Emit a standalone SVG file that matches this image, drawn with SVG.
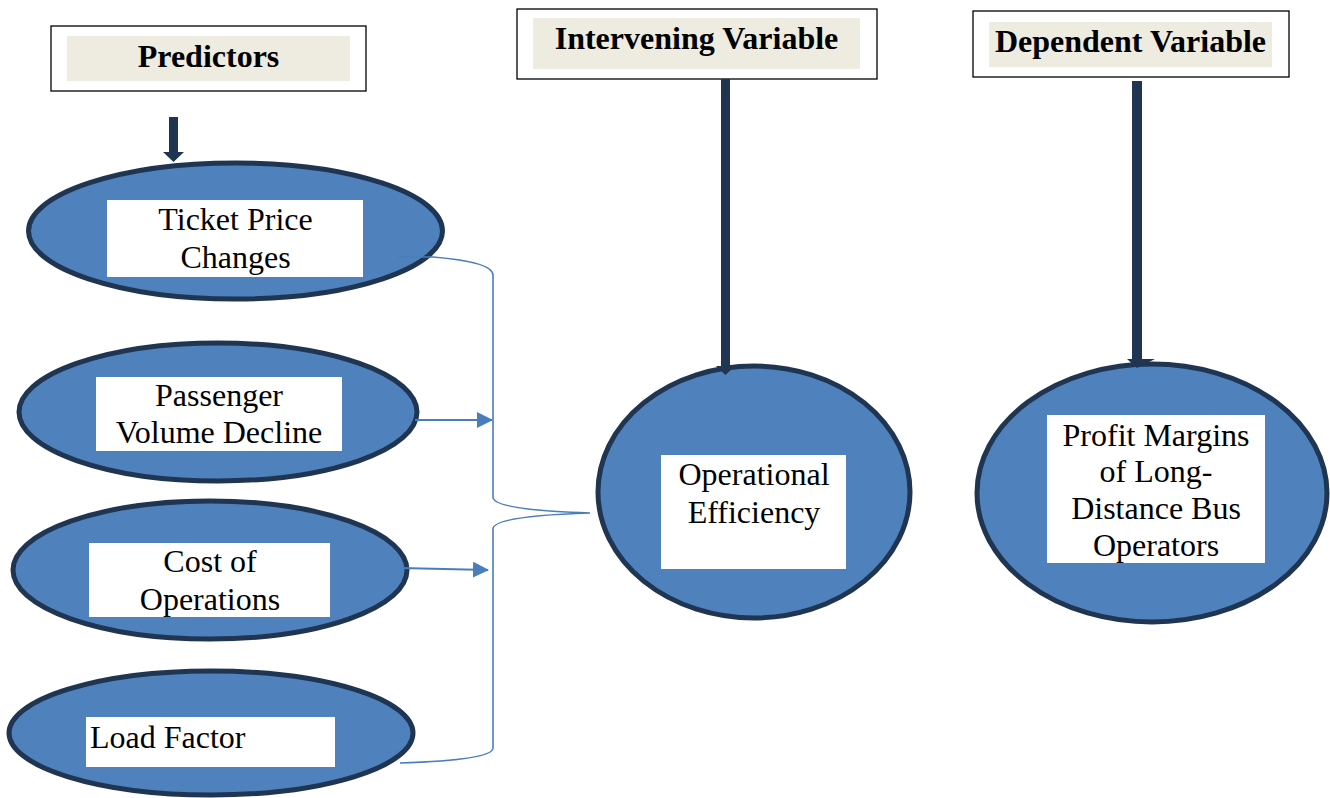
<svg xmlns="http://www.w3.org/2000/svg" width="1330" height="798" viewBox="0 0 1330 798">
<style>
.hdr{fill:#fff;stroke:#000;stroke-width:1.3}
.hin{fill:#EEECE1}
.ht{font-family:"Liberation Serif",serif;font-weight:bold;font-size:32px;fill:#000;text-anchor:middle}
.ell{fill:#4F81BD;stroke:#1F3552;stroke-width:5}
.tb{fill:#fff}
.bt{font-family:"Liberation Serif",serif;font-size:32px;fill:#000;text-anchor:middle}
.brace{fill:none;stroke:#4A7EBB;stroke-width:1.6}
.thick{fill:#1F3552}
</style>
<defs>
<marker id="ah" markerWidth="16" markerHeight="16" refX="15" refY="8" orient="auto" markerUnits="userSpaceOnUse"><path d="M0,0 L16,8 L0,16 Z" fill="#4A7EBB"/></marker>
</defs>
<g id="hdr-predictors">
<rect class="hdr" x="51" y="26" width="315" height="65"/>
<rect class="hin" x="67" y="36" width="283" height="45"/>
<text class="ht" x="208.5" y="67">Predictors</text>
</g>
<g id="hdr-intervening">
<rect class="hdr" x="517" y="9" width="360" height="70"/>
<rect class="hin" x="533" y="18" width="327" height="51"/>
<text class="ht" x="696.5" y="49">Intervening Variable</text>
</g>
<g id="hdr-dependent">
<rect class="hdr" x="973" y="11" width="316" height="66"/>
<rect class="hin" x="989" y="22" width="283" height="45"/>
<text class="ht" x="1130.5" y="52">Dependent Variable</text>
</g>
<g id="n-ticket">
<ellipse class="ell" cx="235.5" cy="231" rx="207" ry="68"/>
<rect class="tb" x="107" y="200" width="256" height="77"/>
<text class="bt" x="235.5" y="230">Ticket Price</text>
<text class="bt" x="235.5" y="268">Changes</text>
</g>
<g id="n-passenger">
<ellipse class="ell" cx="218" cy="412" rx="199" ry="69"/>
<rect class="tb" x="96" y="377" width="246" height="74"/>
<text class="bt" x="219" y="406">Passenger</text>
<text class="bt" x="219" y="443">Volume Decline</text>
</g>
<g id="n-cost">
<ellipse class="ell" cx="210" cy="570" rx="197" ry="69"/>
<rect class="tb" x="89" y="543" width="241" height="74"/>
<text class="bt" x="210" y="572">Cost of</text>
<text class="bt" x="210" y="610">Operations</text>
</g>
<g id="n-load">
<ellipse class="ell" cx="211" cy="733" rx="202" ry="62"/>
<rect class="tb" x="86" y="717" width="249" height="50"/>
<text class="bt" x="90" y="748" style="text-anchor:start">Load Factor</text>
</g>
<g id="n-operational">
<ellipse class="ell" cx="754" cy="492" rx="156" ry="126"/>
<rect class="tb" x="661" y="455" width="185" height="114"/>
<text class="bt" x="754" y="485">Operational</text>
<text class="bt" x="754" y="523">Efficiency</text>
</g>
<g id="n-profit">
<ellipse class="ell" cx="1152" cy="493" rx="175" ry="129"/>
<rect class="tb" x="1047" y="415" width="218" height="148"/>
<text class="bt" x="1156" y="446">Profit Margins</text>
<text class="bt" x="1156" y="482">of Long-</text>
<text class="bt" x="1156" y="519">Distance Bus</text>
<text class="bt" x="1156" y="556">Operators</text>
</g>
<g id="connectors">
<path class="thick" d="M169,117 H178 V152 H184 L173.5,162 L163,152 H169 Z"/>
<path class="thick" d="M721,79 H730 V366 H735 L725.5,375 L716,366 H721 Z"/>
<path class="thick" d="M1132,81 H1142 V359 H1155 L1137,368 L1127,359 H1132 Z"/>
<path class="brace" d="M398,257 L433,257 Q493,262 493,275 L493,497 Q493,510 590,513 Q493,516 493,529 L493,748 Q493,760 400,763"/>
<line class="brace" x1="415" y1="420" x2="492" y2="420" marker-end="url(#ah)" style="stroke-width:1.8"/>
<line class="brace" x1="400" y1="568" x2="488" y2="570" marker-end="url(#ah)" style="stroke-width:1.8"/>
</g>
</svg>
